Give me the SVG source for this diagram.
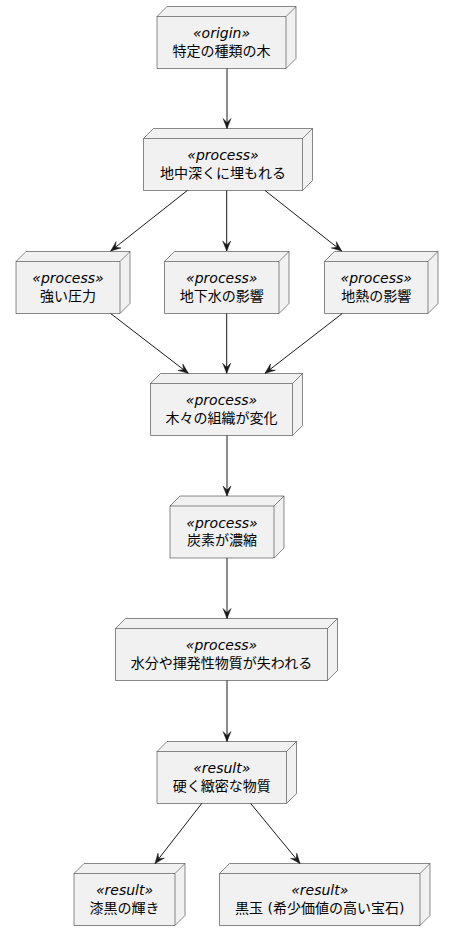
<svg xmlns="http://www.w3.org/2000/svg" width="453" height="942" viewBox="0 0 453 942">
<style>
.nd{fill:#F1F1F1;stroke:#181818;stroke-width:0.5;}
.ln{fill:none;stroke:#181818;stroke-width:0.5;}
.st{font-family:"DejaVu Sans","Noto Sans CJK JP",sans-serif;font-size:14px;font-style:italic;fill:#000;text-anchor:middle;}
.lb{font-family:"DejaVu Sans","Noto Sans CJK JP",sans-serif;font-size:14px;fill:#000;text-anchor:middle;}
.cn{fill:none;stroke:#181818;stroke-width:1;}
</style>
<defs>
<marker id="ah" viewBox="-11 -5 12 10" refX="0" refY="0" markerWidth="12" markerHeight="10" orient="auto" markerUnits="userSpaceOnUse">
<path d="M0,0 L-10,-4 L-6,0 L-10,4 Z" fill="#181818" stroke="#181818" stroke-width="0.5"/>
</marker>
</defs>
<rect width="453" height="942" fill="#FFFFFF"/>

<g id="n1">
<path class="nd" d="M157,16.5 L167,6.5 L296,6.5 L296,58.5 L286,68.5 L157,68.5 Z"/>
<path class="ln" d="M157,16.5 L286,16.5 L296,6.5 M286,16.5 L286,68.5"/>
<text class="st" x="221.5" y="38.3">«origin»</text>
<text class="lb" x="221.5" y="55.7">特定の種類の木</text>
</g>

<g id="n2">
<path class="nd" d="M143.5,138.5 L153.5,128.5 L312.5,128.5 L312.5,180.5 L302.5,190.5 L143.5,190.5 Z"/>
<path class="ln" d="M143.5,138.5 L302.5,138.5 L312.5,128.5 M302.5,138.5 L302.5,190.5"/>
<text class="st" x="223" y="160.3">«process»</text>
<text class="lb" x="223" y="177.7">地中深くに埋もれる</text>
</g>

<g id="n3">
<path class="nd" d="M16,261.5 L26,251.5 L130,251.5 L130,303.5 L120,313.5 L16,313.5 Z"/>
<path class="ln" d="M16,261.5 L120,261.5 L130,251.5 M120,261.5 L120,313.5"/>
<text class="st" x="68" y="283.3">«process»</text>
<text class="lb" x="68" y="300.7">強い圧力</text>
</g>

<g id="n4">
<path class="nd" d="M164.5,261.5 L174.5,251.5 L289,251.5 L289,303.5 L279,313.5 L164.5,313.5 Z"/>
<path class="ln" d="M164.5,261.5 L279,261.5 L289,251.5 M279,261.5 L279,313.5"/>
<text class="st" x="221.75" y="283.3">«process»</text>
<text class="lb" x="221.75" y="300.7">地下水の影響</text>
</g>

<g id="n5">
<path class="nd" d="M324.5,261.5 L334.5,251.5 L438,251.5 L438,303.5 L428,313.5 L324.5,313.5 Z"/>
<path class="ln" d="M324.5,261.5 L428,261.5 L438,251.5 M428,261.5 L428,313.5"/>
<text class="st" x="376.25" y="283.3">«process»</text>
<text class="lb" x="376.25" y="300.7">地熱の影響</text>
</g>

<g id="n6">
<path class="nd" d="M150.5,383.5 L160.5,373.5 L302.5,373.5 L302.5,425.5 L292.5,435.5 L150.5,435.5 Z"/>
<path class="ln" d="M150.5,383.5 L292.5,383.5 L302.5,373.5 M292.5,383.5 L292.5,435.5"/>
<text class="st" x="221.5" y="405.3">«process»</text>
<text class="lb" x="221.5" y="422.7">木々の組織が変化</text>
</g>

<g id="n7">
<path class="nd" d="M170,506 L180,496 L284,496 L284,548 L274,558 L170,558 Z"/>
<path class="ln" d="M170,506 L274,506 L284,496 M274,506 L274,558"/>
<text class="st" x="222" y="527.8">«process»</text>
<text class="lb" x="222" y="545.2">炭素が濃縮</text>
</g>

<g id="n8">
<path class="nd" d="M115.5,628.5 L125.5,618.5 L337.5,618.5 L337.5,670.5 L327.5,680.5 L115.5,680.5 Z"/>
<path class="ln" d="M115.5,628.5 L327.5,628.5 L337.5,618.5 M327.5,628.5 L327.5,680.5"/>
<text class="st" x="221.5" y="650.3">«process»</text>
<text class="lb" x="221.5" y="667.7">水分や揮発性物質が失われる</text>
</g>

<g id="n9">
<path class="nd" d="M157,751.5 L167,741.5 L296.5,741.5 L296.5,793.5 L286.5,803.5 L157,803.5 Z"/>
<path class="ln" d="M157,751.5 L286.5,751.5 L296.5,741.5 M286.5,751.5 L286.5,803.5"/>
<text class="st" x="221.75" y="773.3">«result»</text>
<text class="lb" x="221.75" y="790.7">硬く緻密な物質</text>
</g>

<g id="n10">
<path class="nd" d="M74,873.5 L84,863.5 L185,863.5 L185,915.5 L175,925.5 L74,925.5 Z"/>
<path class="ln" d="M74,873.5 L175,873.5 L185,863.5 M175,873.5 L175,925.5"/>
<text class="st" x="124.5" y="895.3">«result»</text>
<text class="lb" x="124.5" y="912.7">漆黒の輝き</text>
</g>

<g id="n11">
<path class="nd" d="M219.5,873.5 L229.5,863.5 L430,863.5 L430,915.5 L420,925.5 L219.5,925.5 Z"/>
<path class="ln" d="M219.5,873.5 L420,873.5 L430,863.5 M420,873.5 L420,925.5"/>
<text class="st" x="319.75" y="895.3">«result»</text>
<text class="lb" x="319.75" y="912.7">黒玉 (希少価値の高い宝石)</text>
</g>

<g id="connectors">
<line class="cn" x1="227" y1="68.5" x2="227" y2="128.5" marker-end="url(#ah)"/>
<line class="cn" x1="187.3" y1="190.5" x2="110.7" y2="251" marker-end="url(#ah)"/>
<line class="cn" x1="226.7" y1="190.5" x2="226.7" y2="251" marker-end="url(#ah)"/>
<line class="cn" x1="265" y1="190.5" x2="341.7" y2="251" marker-end="url(#ah)"/>
<line class="cn" x1="110.7" y1="313.5" x2="188.3" y2="373.3" marker-end="url(#ah)"/>
<line class="cn" x1="226.7" y1="313.5" x2="226.7" y2="373.3" marker-end="url(#ah)"/>
<line class="cn" x1="342.3" y1="313.5" x2="265" y2="373.3" marker-end="url(#ah)"/>
<line class="cn" x1="227" y1="435.5" x2="227" y2="496" marker-end="url(#ah)"/>
<line class="cn" x1="227" y1="558" x2="227" y2="618.5" marker-end="url(#ah)"/>
<line class="cn" x1="227" y1="680.5" x2="227" y2="741.5" marker-end="url(#ah)"/>
<line class="cn" x1="201.7" y1="803.5" x2="155" y2="863.5" marker-end="url(#ah)"/>
<line class="cn" x1="250.7" y1="803.5" x2="300" y2="863.5" marker-end="url(#ah)"/>
</g>
</svg>
